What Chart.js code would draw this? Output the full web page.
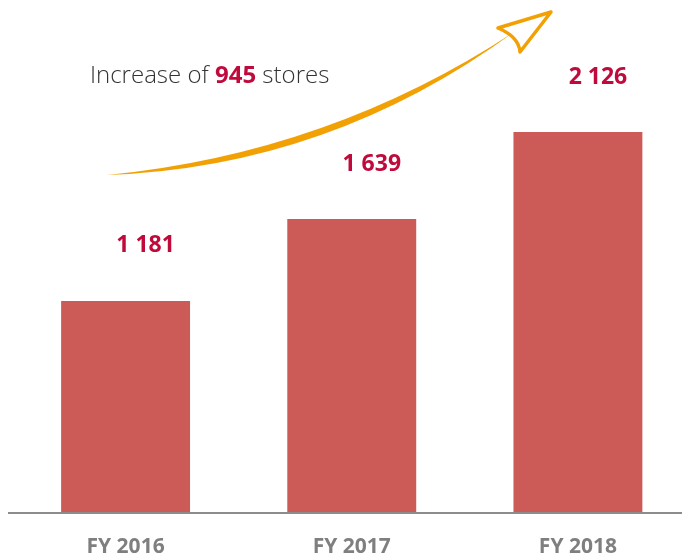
<!DOCTYPE html>
<html lang="en">
<head>
    <meta charset="UTF-8">
    <title>Store growth FY 2016 - FY 2018</title>
    <script src="https://cdn.jsdelivr.net/npm/chart.js"></script>
    <style>
        * { margin: 0; padding: 0; box-sizing: border-box; }
        html, body { width: 682px; height: 559px; overflow: hidden; background: #fff; }
        .chart-wrap { position: relative; width: 691px; height: 559px; }
    </style>
</head>
<body>
    <div class="chart-wrap">
        <canvas id="storesChart"></canvas>
    </div>

    <script>
        const years = ['FY 2016', 'FY 2017', 'FY 2018'];
        const stores = [1181, 1639, 2126];
        const valueLabels = ['1 181', '1 639', '2 126'];
        const increase = '945';

        const barColor = '#CC5A56';
        const labelRed = '#C00A3C';
        const arrowOrange = '#F2A104';

        // value labels above each bar (sit a little right of centre, like the original)
        const valueLabelPlugin = {
            id: 'valueLabels',
            afterDatasetsDraw(chart) {
                const ctx = chart.ctx;
                const meta = chart.getDatasetMeta(0);
                ctx.save();
                ctx.font = 'bold 23px "Open Sans", sans-serif';
                ctx.fillStyle = labelRed;
                ctx.textAlign = 'center';
                ctx.textBaseline = 'middle';
                meta.data.forEach((bar, i) => {
                    ctx.fillText(valueLabels[i], bar.x + 20, bar.y - 55);
                });
                ctx.restore();
            }
        };

        // baseline + growth arrow + caption
        const decorPlugin = {
            id: 'decor',
            afterDraw(chart) {
                const ctx = chart.ctx;
                const area = chart.chartArea;
                const y0 = chart.scales.y.getPixelForValue(0);
                ctx.save();

                ctx.strokeStyle = '#8c8c8c';
                ctx.lineWidth = 2;
                ctx.beginPath();
                ctx.moveTo(8, y0 + 1);
                ctx.lineTo(area.right, y0 + 1);
                ctx.stroke();

                // tapered shaft
                ctx.fillStyle = arrowOrange;
                ctx.beginPath();
                ctx.moveTo(107, 175);
                ctx.quadraticCurveTo(330, 153, 514, 32);
                ctx.quadraticCurveTo(330, 167, 107, 175);
                ctx.closePath();
                ctx.fill();

                // open arrow head
                ctx.strokeStyle = arrowOrange;
                ctx.lineWidth = 3.5;
                ctx.lineJoin = 'round';
                ctx.lineCap = 'round';
                ctx.beginPath();
                ctx.moveTo(498, 28);
                ctx.lineTo(551, 12);
                ctx.lineTo(520, 52);
                ctx.quadraticCurveTo(519, 37, 498, 28);
                ctx.stroke();

                // caption
                ctx.textBaseline = 'middle';
                ctx.textAlign = 'left';
                const part1 = 'Increase of ';
                const part3 = ' stores';
                ctx.font = '300 24px "Open Sans", sans-serif';
                let x = 90;
                ctx.fillStyle = '#333333';
                ctx.fillText(part1, x, 76);
                x += ctx.measureText(part1).width;
                ctx.font = 'bold 24px "Open Sans", sans-serif';
                ctx.fillStyle = labelRed;
                ctx.fillText(increase, x, 76);
                x += ctx.measureText(increase).width;
                ctx.font = '300 24px "Open Sans", sans-serif';
                ctx.fillStyle = '#333333';
                ctx.fillText(part3, x, 76);

                ctx.restore();
            }
        };

        const ctx = document.getElementById('storesChart').getContext('2d');
        new Chart(ctx, {
            type: 'bar',
            data: {
                labels: years,
                datasets: [{
                    data: stores,
                    backgroundColor: barColor,
                    borderWidth: 0,
                    categoryPercentage: 1,
                    barPercentage: 0.57
                }]
            },
            options: {
                responsive: true,
                maintainAspectRatio: false,
                animation: false,
                layout: { padding: { left: 12.5, right: 0, top: 0, bottom: 0 } },
                plugins: {
                    legend: { display: false },
                    tooltip: { enabled: false }
                },
                scales: {
                    x: {
                        grid: { display: false, drawTicks: false },
                        border: { display: false },
                        afterFit(scale) { scale.height = 47; },
                        ticks: {
                            color: '#7f7f7f',
                            font: { family: '"Open Sans", sans-serif', size: 21, weight: 'bold' },
                            padding: 22
                        }
                    },
                    y: {
                        display: false,
                        min: 0,
                        max: 2865
                    }
                }
            },
            plugins: [valueLabelPlugin, decorPlugin]
        });
    </script>
</body>
</html>
